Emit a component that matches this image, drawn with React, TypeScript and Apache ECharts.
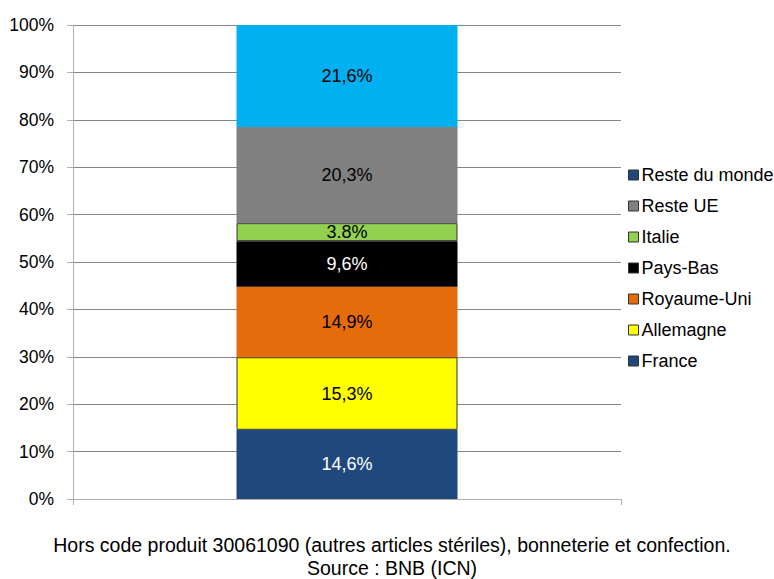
import React, { useEffect, useRef } from "react";
import * as echarts from "echarts";

const categories = ["Total"];
const seriesNames = ["France", "Allemagne", "Royaume-Uni", "Pays-Bas", "Italie", "Reste UE", "Reste du monde"];
const seriesValues = [14.6, 15.3, 14.9, 9.6, 3.8, 20.3, 21.6];
const seriesColors = ["#1F497D", "#FFFF00", "#E46C0A", "#000000", "#92D050", "#808080", "#00B0F0"];
const labelColors = ["#FFFFFF", "#000000", "#000000", "#FFFFFF", "#000000", "#000000", "#000000"];
const labelSeparators = [",", ",", ",", ",", ".", ",", ","];
const legendColors = ["#1F497D", "#FFFF00", "#E46C0A", "#000000", "#92D050", "#808080", "#1F497D"];
const footnoteLines = [
  "Hors code produit 30061090 (autres articles stériles), bonneterie et confection.",
  "Source : BNB (ICN)",
];

const FONT = "Liberation Sans, Arial, sans-serif";

export default function App() {
  const ref = useRef<HTMLDivElement>(null);
  useEffect(() => {
    if (!ref.current) return;
    const chart = echarts.init(ref.current, null, { renderer: "svg" });
    const series = seriesNames.map((name, i) => ({
      name,
      type: "bar",
      stack: "total",
      barWidth: 221,
      data: [seriesValues[i]],
      itemStyle: {
        color: seriesColors[i],
        borderColor: i === 1 || i === 4 ? "#333333" : seriesColors[i],
        borderWidth: i === 1 || i === 4 ? 1 : 0,
      },
      label: {
        show: true,
        position: "inside",
        color: labelColors[i],
        fontFamily: FONT,
        fontSize: 18,
        formatter: (p: any) => String(p.value).replace(".", labelSeparators[i]) + "%",
      },
    }));
    chart.setOption({
      animation: false,
      backgroundColor: "#FFFFFF",
      grid: { left: 73, right: 153, top: 25, bottom: 80, containLabel: false },
      xAxis: {
        type: "category",
        data: categories,
        axisLabel: { show: false },
        axisLine: { show: true, lineStyle: { color: "#B0B0B0", width: 1 } },
        axisTick: { show: true, length: 6, lineStyle: { color: "#B0B0B0" } },
        splitLine: { show: false },
      },
      yAxis: {
        type: "value",
        min: 0,
        max: 100,
        interval: 10,
        axisLabel: {
          formatter: "{value}%",
          color: "#000000",
          fontFamily: FONT,
          fontSize: 17.5,
          margin: 19,
        },
        axisLine: { show: true, lineStyle: { color: "#B0B0B0", width: 1 } },
        axisTick: { show: true, length: 6, lineStyle: { color: "#B0B0B0" } },
        splitLine: { show: true, lineStyle: { color: "#878787", width: 1 } },
      },
      legend: {
        orient: "vertical",
        left: 623,
        top: 159,
        itemWidth: 10,
        itemHeight: 10,
        itemGap: 9,
        icon: "rect",
        textStyle: { color: "#000000", fontFamily: FONT, fontSize: 18, lineHeight: 22, padding: [0, 0, 0, -2] },
        data: seriesNames
          .map((name, i) => ({
            name,
            itemStyle: { color: legendColors[i], borderColor: "#333333", borderWidth: 1 },
          }))
          .reverse(),
      },
      graphic: footnoteLines.map((t, i) => ({
        type: "text",
        x: 392,
        y: 545 + i * 23,
        style: {
          text: t,
          fill: "#000000",
          font: `19.5px ${FONT}`,
          textAlign: "center",
          textVerticalAlign: "middle",
        },
      })),
      series,
    });
    return () => chart.dispose();
  }, []);
  return (
    <div
      ref={ref}
      style={{ position: "fixed", left: 0, top: 0, width: 774, height: 579 }}
    />
  );
}
